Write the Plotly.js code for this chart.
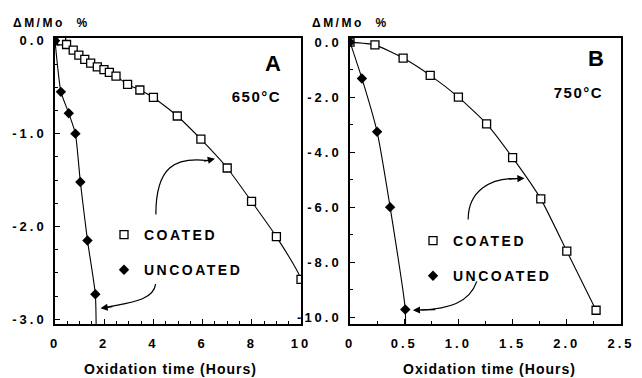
<!DOCTYPE html>
<html>
<head>
<meta charset="utf-8">
<script src="https://cdn.plot.ly/plotly-3.0.1.min.js"></script>
<style>
  html, body { margin: 0; padding: 0; background: #fff; }
  #chart { width: 642px; height: 378px; }
  .xtick text, .ytick text, .x2tick text, .y2tick text { letter-spacing: 3px; }
  text.legendtext { letter-spacing: 2.5px; }
  .annotation-text { letter-spacing: 1px; }
  .annotation[data-index="5"] text, .annotation[data-index="7"] text { letter-spacing: 1.5px; }
  .annotation[data-index="8"] text, .annotation[data-index="9"] text { letter-spacing: 2.5px; }
</style>
</head>
<body>
<div id="chart"></div>
<script>
// ---- Panel A (650 °C) ----
const aCoatedX = [0, 0.27, 0.47, 0.74, 0.97, 1.21, 1.45, 1.72, 1.99, 2.21, 2.48, 2.95, 3.45, 4.0, 4.97, 5.93, 7.0, 7.99, 9.0, 10.0, 10.0];
const aCoatedY = [0, 0, -0.04, -0.10, -0.155, -0.20, -0.24, -0.28, -0.31, -0.34, -0.38, -0.47, -0.53, -0.61, -0.81, -1.06, -1.37, -1.73, -2.11, -2.57, -3.3];
const aUncoatedX = [0, 0.24, 0.56, 0.83, 1.03, 1.32, 1.64, 1.68];
const aUncoatedY = [0, -0.55, -0.78, -1.0, -1.52, -2.15, -2.73, -3.3];
// ---- Panel B (750 °C) ----
const bCoatedX = [0, 0.23, 0.49, 0.74, 1.0, 1.26, 1.5, 1.76, 2.0, 2.27];
const bCoatedY = [0, -0.1, -0.58, -1.21, -2.0, -2.97, -4.2, -5.7, -7.6, -9.75];
const bUncoatedX = [0, 0.11, 0.25, 0.37, 0.51, 0.51];
const bUncoatedY = [0, -1.32, -3.26, -6.0, -9.72, -11.0];

// ---- tick labels ----
const aXTickVals = [0, 2, 4, 6, 8, 10];
const aXTickText = ["0", "2", "4", "6", "8", "10"];
const aYTickVals = [0, -1, -2, -3];
const aYTickText = ["0.0", "-1.0", "-2.0", "-3.0"];
const bXTickVals = [0, 0.5, 1.0, 1.5, 2.0, 2.5];
const bXTickText = ["0", "0.5", "1.0", "1.5", "2.0", "2.5"];
const bYTickVals = [0, -2, -4, -6, -8, -10];
const bYTickText = ["0.0", "-2.0", "-4.0", "-6.0", "-8.0", "-10.0"];

const seriesNames = ["COATED", "UNCOATED"];
const panelLabels = ["A", "B"];
const tempLabels = ["650°C", "750°C"];
const yTitle = "ΔM/Mo\u00a0\u00a0%";
const xTitle = "Oxidation time (Hours)";

const FONT = "Liberation Sans, Arial, Helvetica, sans-serif";
const W = 642, H = 378;
const px = v => v / W;
const py = v => 1 - v / H;

const coatedMarker = { symbol: "square", size: 8, color: "#fff", line: { color: "#000", width: 1.3 } };
const uncoatedMarker = { symbol: "diamond", size: 8, color: "#000", line: { color: "#000", width: 0 } };
const lineStyle = { color: "#000", width: 1.1, shape: "spline", smoothing: 0.5 };

function pair(x, y, xa, ya, name, marker, legend) {
  return [
    { x: x, y: y, xaxis: xa, yaxis: ya, mode: "lines", line: lineStyle, showlegend: false, hoverinfo: "skip" },
    { x: x, y: y, xaxis: xa, yaxis: ya, mode: "markers", marker: marker, name: name,
      legend: legend, legendgroup: legend + name, showlegend: true }
  ];
}

const data = [].concat(
  pair(aCoatedX, aCoatedY, "x", "y", seriesNames[0], coatedMarker, "legend"),
  pair(aUncoatedX, aUncoatedY, "x", "y", seriesNames[1], uncoatedMarker, "legend"),
  pair(bCoatedX, bCoatedY, "x2", "y2", seriesNames[0], coatedMarker, "legend2"),
  pair(bUncoatedX, bUncoatedY, "x2", "y2", seriesNames[1], uncoatedMarker, "legend2")
);

const tickFont = { family: FONT, size: 13, color: "#000", weight: "bold" };
function axis(domain, range, vals, text, minorStep, anchor, standoff) {
  return {
    domain: domain, range: range, anchor: anchor,
    tickmode: "array", tickvals: vals, ticktext: text,
    ticks: "inside", ticklen: 5, tickwidth: 1.2, tickcolor: "#000",
    minor: { dtick: minorStep, tick0: 0, ticks: "inside", ticklen: 3, tickwidth: 1, tickcolor: "#000", showgrid: false },
    showline: true, linewidth: 1.7, linecolor: "#000", mirror: true,
    showgrid: false, zeroline: false, tickfont: tickFont, ticklabelstandoff: standoff
  };
}

const yDom = [py(324), py(38)];
const legendFont = { family: FONT, size: 14, color: "#000", weight: "bold" };
const layout = {
  width: W, height: H,
  margin: { l: 0, r: 0, t: 0, b: 0 },
  paper_bgcolor: "#fff", plot_bgcolor: "#fff",
  font: { family: FONT, color: "#000" },
  xaxis: axis([px(55), px(301)], [0, 10], aXTickVals, aXTickText, 0.5, "y", 7),
  yaxis: axis(yDom, [-3.05, 0.03], aYTickVals, aYTickText, 0.25, "x", 4),
  xaxis2: axis([px(350), px(621)], [0, 2.5], bXTickVals, bXTickText, 0.25, "y2", 7),
  yaxis2: axis(yDom, [-10.25, 0.15], bYTickVals, bYTickText, 1, "x2", 4),
  legend: {
    x: px(104), y: py(219), xanchor: "left", yanchor: "top",
    bgcolor: "rgba(0,0,0,0)", borderwidth: 0, traceorder: "grouped", tracegroupgap: 14,
    font: legendFont
  },
  legend2: {
    x: px(413), y: py(225), xanchor: "left", yanchor: "top",
    bgcolor: "rgba(0,0,0,0)", borderwidth: 0, traceorder: "grouped", tracegroupgap: 14,
    font: legendFont
  },
  shapes: [
    { type: "path", xref: "x", yref: "y", path: "M 4.1,-1.87 C 4.1,-1.35 4.9,-1.25 6.2,-1.29", line: { color: "#000", width: 1.2 } },
    { type: "path", xref: "x", yref: "y", path: "M 4.09,-2.62 C 4.0,-2.8 3.0,-2.82 2.1,-2.87", line: { color: "#000", width: 1.2 } },
    { type: "path", xref: "x2", yref: "y2", path: "M 1.09,-6.45 C 1.09,-5.4 1.3,-4.95 1.52,-4.96", line: { color: "#000", width: 1.2 } },
    { type: "path", xref: "x2", yref: "y2", path: "M 1.17,-8.7 C 1.1,-9.5 0.9,-9.7 0.66,-9.74", line: { color: "#000", width: 1.2 } }
  ],
  annotations: [
    // arrowheads (0-3)
    { x: 6.5, y: -1.27, ax: 6.0, ay: -1.30, xref: "x", yref: "y", axref: "x", ayref: "y", text: "", showarrow: true, arrowhead: 2, arrowsize: 1.1, arrowwidth: 1.3, arrowcolor: "#000", standoff: 0 },
    { x: 1.85, y: -2.88, ax: 2.4, ay: -2.86, xref: "x", yref: "y", axref: "x", ayref: "y", text: "", showarrow: true, arrowhead: 2, arrowsize: 1.1, arrowwidth: 1.3, arrowcolor: "#000", standoff: 0 },
    { x: 1.61, y: -4.95, ax: 1.45, ay: -4.98, xref: "x2", yref: "y2", axref: "x2", ayref: "y2", text: "", showarrow: true, arrowhead: 2, arrowsize: 1.1, arrowwidth: 1.3, arrowcolor: "#000", standoff: 0 },
    { x: 0.58, y: -9.75, ax: 0.8, ay: -9.72, xref: "x2", yref: "y2", axref: "x2", ayref: "y2", text: "", showarrow: true, arrowhead: 2, arrowsize: 1.1, arrowwidth: 1.3, arrowcolor: "#000", standoff: 0 },
    // panel letters and temperatures (4-7)
    { x: 8.9, y: -0.25, xref: "x", yref: "y", text: panelLabels[0], showarrow: false, font: { family: FONT, size: 22, weight: "bold", color: "#000" } },
    { x: 8.2, y: -0.6, xref: "x", yref: "y", text: tempLabels[0], showarrow: false, font: { family: FONT, size: 15, weight: "bold", color: "#000" } },
    { x: 2.27, y: -0.58, xref: "x2", yref: "y2", text: panelLabels[1], showarrow: false, font: { family: FONT, size: 22, weight: "bold", color: "#000" } },
    { x: 2.11, y: -1.85, xref: "x2", yref: "y2", text: tempLabels[1], showarrow: false, font: { family: FONT, size: 15, weight: "bold", color: "#000" } },
    // y titles (8-9)
    { x: px(17), y: py(23), xref: "paper", yref: "paper", xanchor: "left", yanchor: "middle", text: yTitle, showarrow: false, font: { family: FONT, size: 12, weight: "bold", color: "#000" } },
    { x: px(316), y: py(23), xref: "paper", yref: "paper", xanchor: "left", yanchor: "middle", text: yTitle, showarrow: false, font: { family: FONT, size: 12, weight: "bold", color: "#000" } },
    // x titles (10-11)
    { x: px(171), y: py(369), xref: "paper", yref: "paper", xanchor: "center", yanchor: "middle", text: xTitle, showarrow: false, font: { family: FONT, size: 14, weight: "bold", color: "#000" } },
    { x: px(489), y: py(369), xref: "paper", yref: "paper", xanchor: "center", yanchor: "middle", text: xTitle, showarrow: false, font: { family: FONT, size: 14, weight: "bold", color: "#000" } }
  ]
};

Plotly.newPlot("chart", data, layout, { displayModeBar: false, staticPlot: true }).then(function (gd) {
  // make sure every legend entry gets the same letter spacing as in the original
  document.querySelectorAll("#chart text").forEach(function (t) {
    if (seriesNames.indexOf(t.textContent) >= 0) t.style.letterSpacing = "2.5px";
  });
});
</script>
</body>
</html>
